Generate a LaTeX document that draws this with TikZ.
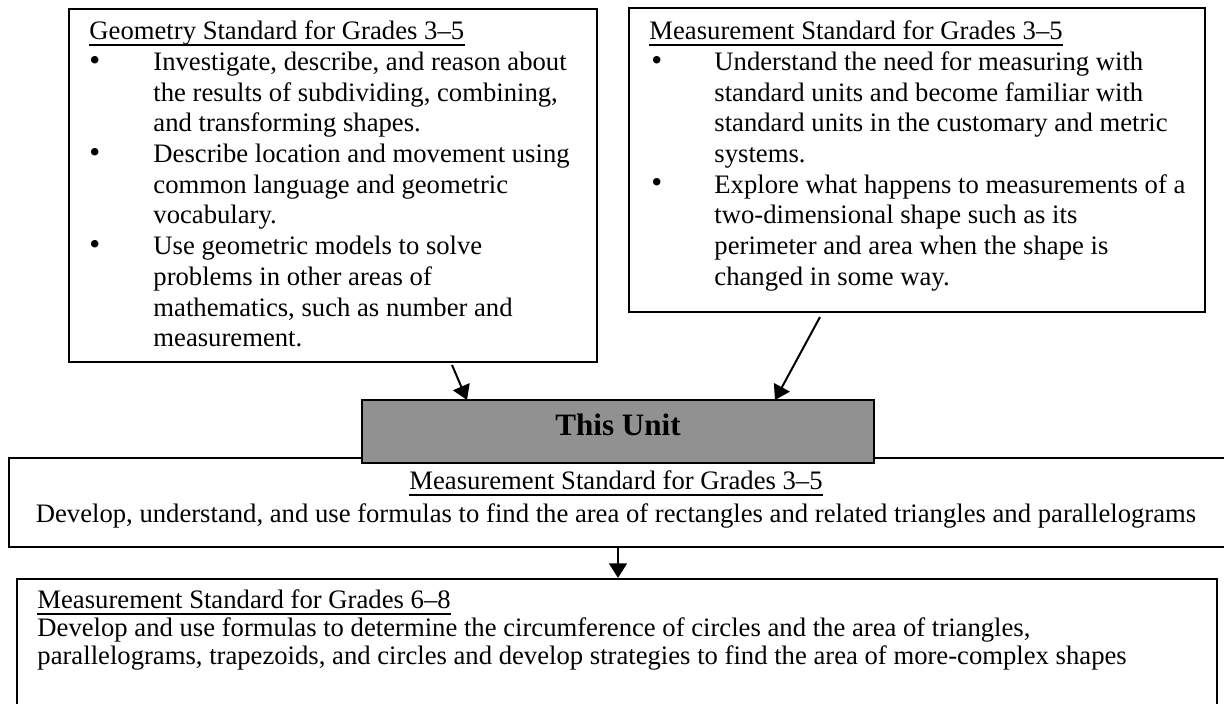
\documentclass[tikz,border=0pt]{standalone}
\usepackage{fontspec}
\setmainfont{Liberation Serif}
\usetikzlibrary{arrows.meta,fit}
\definecolor{unitgray}{RGB}{145,145,145}
\begin{document}
\begin{tikzpicture}[x=0.45pt,y=-0.45pt,
  box/.style={draw, line width=1pt, inner sep=0pt},
  txt/.style={anchor=base west, inner sep=0pt, font=\fontsize{12}{13.8}\selectfont},
  bul/.style={anchor=base west, inner sep=0pt, font=\fontsize{14}{14}\selectfont},
  ctxt/.style={anchor=base, inner sep=0pt, font=\fontsize{12}{13.8}\selectfont},
  arr/.style={line width=0.9pt, -{Triangle[length=6.5pt,width=8pt]}},
  uline/.style={line width=0.8pt}]
\useasboundingbox (0,0) rectangle (1224,704);
\clip (0,0) rectangle (1224,704);

% top-left box
\node[box, fit={(69,9) (597,362)}] (TL) {};
\node[txt] (tlh) at (89,40) {Geometry Standard for Grades 3–5};
\draw[uline] ([yshift=-2.3pt]tlh.base west) -- ([yshift=-2.3pt]tlh.base east);
\foreach \t [count=\i] in {{Investigate, describe, and reason about},
  {the results of subdividing, combining,},
  {and transforming shapes.},
  {Describe location and movement using},
  {common language and geometric},
  {vocabulary.},
  {Use geometric models to solve},
  {problems in other areas of},
  {mathematics, such as number and},
  {measurement.}}
  \node[txt] (tl\i) at (153,{70.5+30.7*(\i-1)}) {\t};
\node[bul] (tlb1) at (89,71) {•};
\node[bul] (tlb2) at (89,163) {•};
\node[bul] (tlb3) at (89,255) {•};

% top-right box
\node[box, fit={(629,8) (1205,312)}] (TR) {};
\node[txt] (trh) at (649,40) {Measurement Standard for Grades 3–5};
\draw[uline] ([yshift=-2.3pt]trh.base west) -- ([yshift=-2.3pt]trh.base east);
\foreach \t [count=\i] in {{Understand the need for measuring with},
  {standard units and become familiar with},
  {standard units in the customary and metric},
  {systems.},
  {Explore what happens to measurements of a},
  {two-dimensional shape such as its},
  {perimeter and area when the shape is},
  {changed in some way.}}
  \node[txt] (tr\i) at (714,{70.5+30.7*(\i-1)}) {\t};
\node[bul] (trb1) at (651,71) {•};
\node[bul] (trb2) at (651,193) {•};

% middle box
\node[box, fit={(9,458) (1226,547)}] (MID) {};
\node[ctxt] (mh) at (616,490) {Measurement Standard for Grades 3–5};
\draw[uline] ([yshift=-2.3pt]mh.base west) -- ([yshift=-2.3pt]mh.base east);
\node[ctxt] (mb) at (616,523) {Develop, understand, and use formulas to find the area of rectangles and related triangles and parallelograms};

% this unit box
\node[box, fill=unitgray, fit={(362,400) (874,463)}] (UNIT) {};
\node[anchor=base, inner sep=0pt, font=\fontsize{14}{16}\selectfont\bfseries] (ut) at (618,436) {This Unit};

% bottom box
\node[box, fit={(17,579) (1217,715)}] (BOT) {};
\node[txt] (bh) at (37,609) {Measurement Standard for Grades 6–8};
\draw[uline] ([yshift=-2.3pt]bh.base west) -- ([yshift=-2.3pt]bh.base east);
\node[txt] (b1) at (37,637) {Develop and use formulas to determine the circumference of circles and the area of triangles,};
\node[txt] (b2) at (37,665) {parallelograms, trapezoids, and circles and develop strategies to find the area of more-complex shapes};

% arrows
\coordinate (a1s) at (452,365);
\coordinate (a1e) at (467,400);
\coordinate (a2s) at (820,317);
\coordinate (a2e) at (775,400);
\draw[arr] (a1s) -- (a1e);
\draw[arr] (a2s) -- (a2e);
\draw[arr] (MID.south -| 618,0) -- (BOT.north -| 618,0);
\end{tikzpicture}
\end{document}
